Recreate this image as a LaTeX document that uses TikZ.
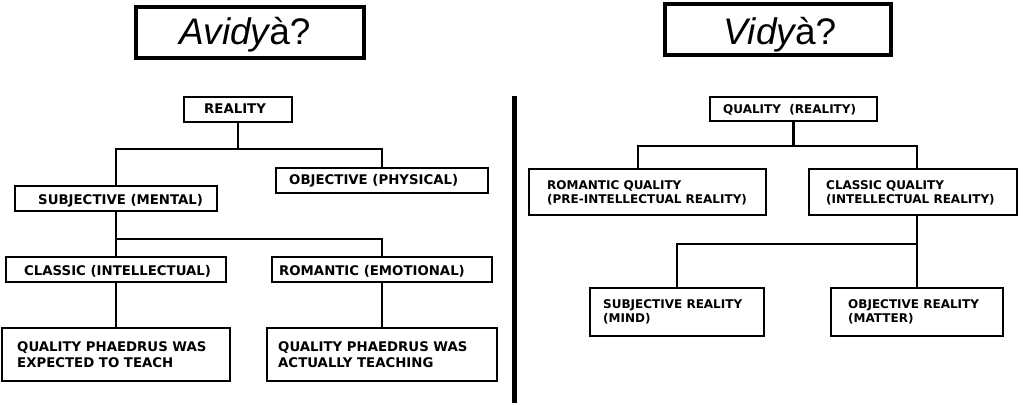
\documentclass[tikz,border=0pt]{standalone}
\usepackage{fontspec}
\setmainfont{DejaVu Sans}
\newfontfamily\titlefont{Liberation Sans}
\tikzset{
  box/.style={draw, line width=2.4pt, inner sep=0pt, anchor=north west},
  tbox/.style={draw, line width=4pt, inner sep=0pt, anchor=north west},
  lt/.style={font=\fontsize{13.3}{16}\selectfont\bfseries, inner sep=0pt, anchor=base west, align=left},
  rt/.style={font=\fontsize{12}{14}\selectfont\bfseries, inner sep=0pt, anchor=base west, align=left},
  ttl/.style={font=\titlefont\fontsize{37}{40}\selectfont, inner sep=0pt, anchor=base},
  conn/.style={line width=2.4pt, line join=miter},
  sep/.style={line width=5pt}
}
% \mybox{name}{style}{x1}{y1}{x2}{y2}{linewidth}
\newcommand\mybox[7]{\node[#2, minimum width={#5-#3-#7}, minimum height={#6-#4-#7}] (#1) at (#3,#4) {};}
\begin{document}
\begin{tikzpicture}[x=1pt,y=-1pt]
\fill[white] (0,0) rectangle (1028,406);
\useasboundingbox (0,0) rectangle (1028,406);

% titles
\mybox{t1}{tbox}{134}{5}{366}{60}{4}
\node[ttl] (t1t) at (245,45) {{\itshape Avidy}à?};
\mybox{t2}{tbox}{663}{2}{893}{57}{4}
\node[ttl] (t2t) at (780,45) {{\itshape Vidy}à?};

% separator
\coordinate (s1) at (514.5,96);
\coordinate (s2) at (514.5,403);
\draw[sep] (s1) -- (s2);

% left tree
\mybox{real}{box}{183}{96}{293}{123}{2.4}
\node[lt] (realt) at (204,114) {REALITY};
\mybox{obj}{box}{275}{167}{489}{194}{2.4}
\node[lt] (objt) at (289,185) {OBJECTIVE (PHYSICAL)};
\mybox{subj}{box}{14}{185}{218}{212}{2.4}
\node[lt] (subjt) at (38,205) {SUBJECTIVE (MENTAL)};
\mybox{cls}{box}{5}{256}{227}{283}{2.4}
\node[lt] (clst) at (24,275) {CLASSIC (INTELLECTUAL)};
\mybox{rom}{box}{271}{256}{493}{283}{2.4}
\node[lt] (romt) at (279,275) {ROMANTIC (EMOTIONAL)};
\mybox{qe}{box}{1}{327}{231}{382}{2.4}
\node[lt] (qet) at (17,367) {QUALITY PHAEDRUS WAS\\EXPECTED TO TEACH};
\mybox{qa}{box}{266}{327}{498}{382}{2.4}
\node[lt] (qat) at (278,367) {QUALITY PHAEDRUS WAS\\ACTUALLY TEACHING};

\coordinate (ya) at (0,149);
\coordinate (yb) at (0,239);
\draw[conn] (real.south) -- (real.south |- ya);
\draw[conn] (subj.north) |- (real.south |- ya) -| (obj.north);
\draw[conn] (subj.south) -- (subj.south |- yb);
\draw[conn] (cls.north) |- (subj.south |- yb) -| (rom.north);
\draw[conn] (cls.south) -- (qe.north);
\draw[conn] (rom.south) -- (qa.north);

% right tree
\mybox{q}{box}{709}{96}{878}{122}{2.4}
\node[rt] (qt) at (723,114) {QUALITY\ \ (REALITY)};
\mybox{rq}{box}{528}{168}{767}{216}{2.4}
\node[rt] (rqt) at (547,204) {ROMANTIC QUALITY\\(PRE-INTELLECTUAL REALITY)};
\mybox{cq}{box}{808}{168}{1018}{216}{2.4}
\node[rt] (cqt) at (826,204) {CLASSIC QUALITY\\(INTELLECTUAL REALITY)};
\mybox{sr}{box}{589}{287}{765}{337}{2.4}
\node[rt] (srt) at (603,322) {SUBJECTIVE REALITY\\(MIND)};
\mybox{or}{box}{830}{287}{1004}{337}{2.4}
\node[rt] (ort) at (848,322) {OBJECTIVE REALITY\\(MATTER)};

\coordinate (yc) at (0,146);
\coordinate (yd) at (0,244);
\draw[conn] (q.south) -- (q.south |- yc);
\draw[conn] ([xshift=-9.5pt]rq.north) |- (q.south |- yc) -| ([xshift=4pt]cq.north);
\draw[conn] ([xshift=4pt]cq.south) -- ([xshift=4pt]cq.south |- yd);
\draw[conn] (sr.north) |- ([xshift=4pt]cq.south |- yd) -| (or.north);
\end{tikzpicture}
\end{document}
